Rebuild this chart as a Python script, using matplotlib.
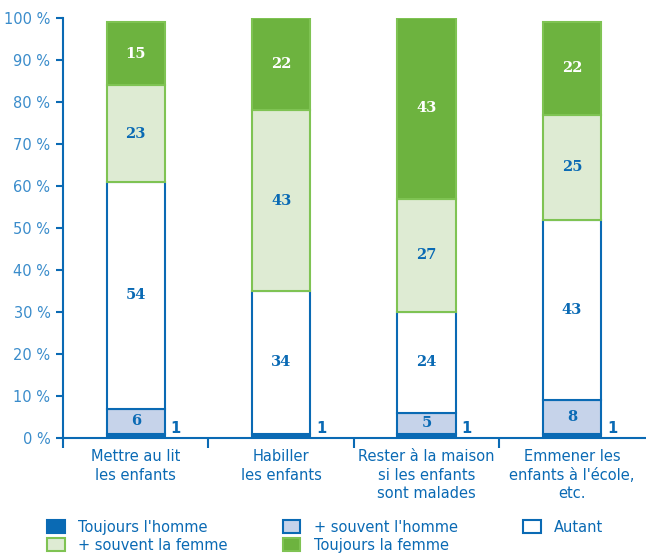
import matplotlib
matplotlib.use("Agg")
import matplotlib.pyplot as plt
from matplotlib.patches import Patch
import numpy as np

categories = ["Mettre au lit\nles enfants", "Habiller\nles enfants",
              "Rester à la maison\nsi les enfants\nsont malades",
              "Emmener les\nenfants à l'école,\netc."]
toujours_homme = [1, 1, 1, 1]
souvent_homme = [6, 0, 5, 8]
autant = [54, 34, 24, 43]
souvent_femme = [23, 43, 27, 25]
toujours_femme = [15, 22, 43, 22]
y_ticks = [0, 10, 20, 30, 40, 50, 60, 70, 80, 90, 100]

BLUE = "#0a6ab4"
TICK_BLUE = "#3a8ccb"
LIGHT_BLUE = "#c6d3ea"
LIGHT_GREEN = "#deebd3"
GREEN_EDGE = "#7fc353"
GREEN = "#6db33f"

fig = plt.figure(figsize=(6.46, 5.54), dpi=100)
ax = fig.add_axes([0.0975, 0.2094, 0.9005, 0.7581])

x = np.arange(len(categories))
w = 0.4

series = [
    ("Toujours l'homme", toujours_homme, BLUE, BLUE),
    ("+ souvent l'homme", souvent_homme, LIGHT_BLUE, BLUE),
    ("Autant", autant, "white", BLUE),
    ("+ souvent la femme", souvent_femme, LIGHT_GREEN, GREEN_EDGE),
    ("Toujours la femme", toujours_femme, GREEN, GREEN_EDGE),
]

bottom = np.zeros(len(categories))
handles = {}
for i, (name, vals, fc, ec) in enumerate(series):
    vals = np.array(vals, dtype=float)
    ax.bar(x, vals, w, bottom=bottom, color=fc, edgecolor=ec, linewidth=1.5, zorder=2)
    handles[name] = Patch(facecolor=fc, edgecolor=ec, linewidth=1.5)
    for j, v in enumerate(vals):
        if i == 0:
            ax.text(x[j] + w / 2 + 0.04, 2.2, f"{int(v)}", ha="left", va="center",
                    color=BLUE, fontsize=10.5, fontweight="bold", family="DejaVu Sans")
        elif v > 0:
            tc = "white" if i == 4 else BLUE
            ax.text(x[j], bottom[j] + v / 2, f"{int(v)}", ha="center", va="center",
                    color=tc, fontsize=10.5, fontweight="bold", family="DejaVu Serif")
    bottom += vals

ax.set_xlim(-0.5, 3.5)
ax.set_ylim(0, 100)
ax.set_yticks(y_ticks)
ax.set_yticklabels([f"{t} %" for t in y_ticks])
ax.set_xticks([-0.5, 0.5, 1.5, 2.5])
ax.set_xticklabels([])
ax.set_xticks(x, minor=True)
ax.set_xticklabels(categories, minor=True, linespacing=1.3)
ax.tick_params(axis="x", which="minor", length=0, pad=8, labelsize=10.5, labelcolor=BLUE)
ax.tick_params(axis="x", which="major", length=7, width=1.5, color=BLUE, direction="out")
ax.tick_params(axis="y", length=5, width=1.5, color=BLUE, labelsize=10.5,
               labelcolor=TICK_BLUE, pad=4)

for s in ["top", "right"]:
    ax.spines[s].set_visible(False)
for s in ["left", "bottom"]:
    ax.spines[s].set_color(BLUE)
    ax.spines[s].set_linewidth(1.5)

# legend laid out as three columns at fixed positions
columns = [
    (["Toujours l'homme", "+ souvent la femme"], 0.073),
    (["+ souvent l'homme", "Toujours la femme"], 0.438),
    (["Autant"], 0.810),
]
for names, xpos in columns:
    leg = fig.legend([handles[n] for n in names], names, loc="upper left",
                     bbox_to_anchor=(xpos, 0.062), frameon=False, fontsize=10.5,
                     handlelength=1.2, handleheight=1.0, labelspacing=0.2,
                     handletextpad=0.9, borderaxespad=0, borderpad=0)
    for t in leg.get_texts():
        t.set_color(BLUE)

fig.savefig("out.png", dpi=100)
